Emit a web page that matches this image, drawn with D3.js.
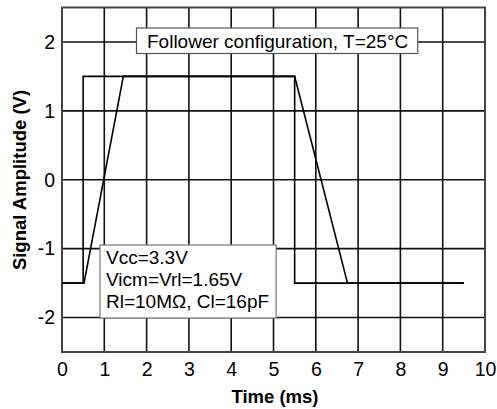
<!DOCTYPE html>
<html lang="en">
<head>
    <meta charset="UTF-8">
    <title>follower step response</title>
    <script src="https://d3js.org/d3.v7.min.js"></script>
    <style>
        body{ margin:0; background:#fff; }
        text{ font-family: "Liberation Sans", Arial, sans-serif; fill:#000; }
    </style>
</head>
<body>
<svg id="chart" width="497" height="409"></svg>

<script>
    // input pulse and follower output (time in ms, amplitude in V)
    let inputTime  = [0, 0.5, 0.5, 5.5, 5.5, 9.5];
    let inputVolt  = [-1.5, -1.5, 1.5, 1.5, -1.5, -1.5];
    let outputTime = [0, 0.52, 1.45, 5.5, 6.75, 9.5];
    let outputVolt = [-1.5, -1.5, 1.5, 1.5, -1.5, -1.5];

    let xTicks = [0, 1, 2, 3, 4, 5, 6, 7, 8, 9, 10];
    let yTicks = [-2, -1, 0, 1, 2];

    let titleText = "Follower configuration, T=25°C";
    let noteLines = ["Vcc=3.3V", "Vicm=Vrl=1.65V", "Rl=10MΩ, Cl=16pF"];

    let svg = d3.select("#chart")
    let plotL = 62, plotR = 485, plotT = 7.5, plotB = 352

    let x = d3.scaleLinear().domain([0, 10]).range([plotL, plotR])
    let y = d3.scaleLinear().domain([-2.5, 2.5]).range([plotB, plotT])

    // grid
    svg.append("g")
        .selectAll("line")
        .data(xTicks.slice(1, -1))
        .join("line")
        .attr("x1", d => x(d)).attr("x2", d => x(d))
        .attr("y1", plotT).attr("y2", plotB)
        .attr("stroke", "#111").attr("stroke-width", 1.6)

    svg.append("g")
        .selectAll("line")
        .data(yTicks)
        .join("line")
        .attr("x1", plotL).attr("x2", plotR)
        .attr("y1", d => y(d)).attr("y2", d => y(d))
        .attr("stroke", "#111").attr("stroke-width", 1.6)

    // frame
    svg.append("rect")
        .attr("x", plotL).attr("y", plotT)
        .attr("width", plotR - plotL).attr("height", plotB - plotT)
        .attr("fill", "none").attr("stroke", "#444").attr("stroke-width", 2)

    // tick labels (plain hyphen for negatives, like the original)
    let fmt = d => String(d)
    let xAxis = d3.axisBottom(x).tickValues(xTicks).tickFormat(fmt).tickSize(0).tickPadding(8)
    let gx = svg.append("g").attr("transform", `translate(0,${plotB})`).call(xAxis)
    gx.select(".domain").remove()
    gx.selectAll("text").attr("font-size", 19.5).attr("font-family", null)
        .attr("y", 24).attr("dy", null)

    let yAxis = d3.axisLeft(y).tickValues(yTicks).tickFormat(fmt).tickSize(0).tickPadding(7)
    let gy = svg.append("g").attr("transform", `translate(${plotL},0)`).call(yAxis)
    gy.select(".domain").remove()
    gy.selectAll("text").attr("font-size", 19.5).attr("font-family", null)

    // traces
    let line = d3.line().x(d => x(d[0])).y(d => y(d[1]))
    svg.append("path")
        .attr("d", line(d3.zip(inputTime, inputVolt)))
        .attr("fill", "none").attr("stroke", "#000").attr("stroke-width", 1.6)
    svg.append("path")
        .attr("d", line(d3.zip(outputTime, outputVolt)))
        .attr("fill", "none").attr("stroke", "#000").attr("stroke-width", 1.6)

    // title box
    let tg = svg.append("g")
    let tRect = tg.append("rect")
    let tText = tg.append("text")
        .attr("x", 147).attr("y", 47.5)
        .attr("font-size", 19)
        .text(titleText)
    let tw = tText.node().getComputedTextLength()
    tRect.attr("x", 136.5).attr("y", 28)
        .attr("width", tw + 20).attr("height", 25.5)
        .attr("fill", "#fff").attr("stroke", "#555").attr("stroke-width", 1.2)

    // conditions box
    let ng = svg.append("g")
    let nRect = ng.append("rect")
    let nText = ng.selectAll("text")
        .data(noteLines)
        .join("text")
        .attr("x", 106)
        .attr("y", (d, i) => 263.5 + i * 22)
        .attr("font-size", 19)
        .text(d => d)
    let nw = d3.max(nText.nodes(), n => n.getComputedTextLength())
    nRect.attr("x", 100).attr("y", 245)
        .attr("width", nw + 13).attr("height", 73)
        .attr("fill", "#fff").attr("stroke", "#777").attr("stroke-width", 1.2)

    // axis titles
    svg.append("text")
        .attr("transform", "translate(26,180) rotate(-90)")
        .attr("text-anchor", "middle")
        .attr("font-size", 18.5).attr("font-weight", "bold")
        .text("Signal Amplitude (V)")

    svg.append("text")
        .attr("x", 275).attr("y", 403)
        .attr("text-anchor", "middle")
        .attr("font-size", 18.5).attr("font-weight", "bold")
        .text("Time (ms)")
</script>
</body>
</html>
